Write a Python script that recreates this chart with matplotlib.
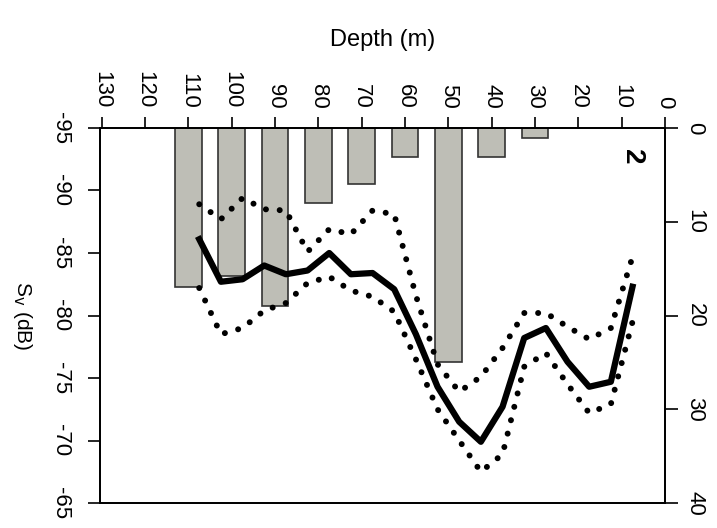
import matplotlib.pyplot as plt

plt.rcParams['font.family'] = ['Liberation Sans', 'DejaVu Sans']
plt.rcParams['axes.unicode_minus'] = False

# bars: depth (m) vs value on right axis
bar_depth = [110, 100, 90, 80, 70, 60, 50, 40, 30]
bar_val = [17.0, 15.8, 19.0, 8.0, 6.0, 3.1, 25.0, 3.1, 1.1]

# Sv profile (dB) vs depth
depth = [107.5, 102.5, 97.5, 92.5, 87.5, 82.5, 77.5, 72.5, 67.5, 62.5, 57.5,
         52.5, 47.5, 42.5, 37.5, 32.5, 27.5, 22.5, 17.5, 12.5, 7.5]
sv_mean = [-86.1, -82.7, -82.9, -84.0, -83.3, -83.6, -85.0, -83.3, -83.4, -82.1, -78.5,
           -74.3, -71.5, -69.9, -72.7, -78.2, -79.0, -76.3, -74.3, -74.7, -82.3]
sv_low = [-88.9, -87.7, -89.4, -88.5, -88.4, -85.1, -86.9, -86.5, -88.4, -88.1, -81.6,
          -76.1, -73.9, -75.1, -77.4, -80.2, -80.2, -79.1, -78.1, -79.0, -84.7]
sv_high = [-82.2, -78.5, -79.0, -80.4, -81.0, -82.6, -83.1, -82.0, -81.5, -80.3, -76.5,
           -72.5, -70.0, -67.5, -68.9, -75.9, -77.0, -74.5, -72.2, -72.9, -79.5]

fig = plt.figure(figsize=(7.17, 5.28), dpi=100)
ax = fig.add_axes([0.1395, 0.0473, 0.788, 0.7103])
ax2 = ax.twinx()

# bars, right axis
ax.bar(bar_depth, bar_val, width=6.2, color='#bebeb6', edgecolor='#333333', linewidth=1.2)
ax.set_xlim(130.4, 0)
ax.set_ylim(40, 0)
ax.yaxis.tick_right()
ax.set_yticks([0, 10, 20, 30, 40])
ax.tick_params(axis='y', which='both', direction='out', length=9, width=1.2,
               labelsize=16, pad=5, labelrotation=-90)
for t in ax.get_yticklabels():
    t.set_va('center')

ax.xaxis.tick_top()
ax.xaxis.set_label_position('top')
ax.set_xticks(range(0, 131, 10))
ax.tick_params(axis='x', direction='out', length=8, width=1.2, labelsize=16, pad=6,
               labelrotation=-90)
ax.set_xlabel('Depth (m)', fontsize=17, labelpad=18)

# Sv profile, left axis
ax2.plot(depth, sv_low, color='black', lw=4.3, ls=(0, (0.01, 2.3)), dash_capstyle='round')
ax2.plot(depth, sv_high, color='black', lw=4.3, ls=(0, (0.01, 2.3)), dash_capstyle='round')
ax2.plot(depth, sv_mean, color='black', lw=4.5)
ax2.set_ylim(-65, -95)
ax2.yaxis.tick_left()
ax2.yaxis.set_label_position('left')
ax2.set_yticks([-95, -90, -85, -80, -75, -70, -65])
ax2.tick_params(axis='y', direction='out', length=9, width=1.2, labelsize=16, pad=12,
                labelrotation=-90)
for t in ax2.get_yticklabels():
    t.set_va('center')
ax2.set_ylabel('S$_{\\mathrm{v}}$ (dB)', fontsize=15, rotation=-90, labelpad=20, va='center')

for a in (ax, ax2):
    for s in a.spines.values():
        s.set_linewidth(1.3)

ax2.text(0.942, 0.923, '2', transform=ax2.transAxes, fontsize=20, fontweight='bold',
         rotation=-90, ha='center', va='center')

fig.savefig('out.png', dpi=100)
